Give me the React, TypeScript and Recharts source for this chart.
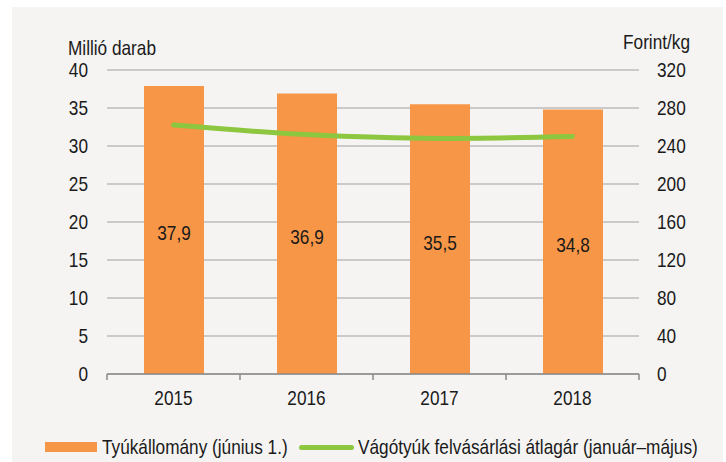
import React from 'react';
import { ComposedChart, Bar, Line, XAxis, YAxis, CartesianGrid, LabelList, Legend } from 'recharts';

const years = ['2015', '2016', '2017', '2018'];
const flock = [37.9, 36.9, 35.5, 34.8];
const price = [262, 252, 248, 250];
const leftTicks = [0, 5, 10, 15, 20, 25, 30, 35, 40];
const rightTicks = [0, 40, 80, 120, 160, 200, 240, 280, 320];
const barName = 'Tyúkállomány (június 1.)';
const lineName = 'Vágótyúk felvásárlási átlagár (január–május)';
const leftUnit = 'Millió darab';
const rightUnit = 'Forint/kg';

const data = years.map((y, i) => ({ year: y, flock: flock[i], price: price[i] }));

const FONT = "'Liberation Sans', Arial, sans-serif";
const FS = 21;
const SX = 0.82;
const TXT = '#1a1a1a';
const ORANGE = '#f79646';
const GREEN = '#8dc63f';
const AXIS = '#8a8a8a';

const fmt = (v: number) => String(v).replace('.', ',');

const NText = ({ x, y, anchor = 'middle', dy = '0.355em', children }: any) => (
  <text
    transform={`translate(${x},${y}) scale(${SX},1)`}
    x={0}
    y={0}
    dy={dy}
    textAnchor={anchor}
    fontFamily={FONT}
    fontSize={FS}
    fill={TXT}
  >
    {children}
  </text>
);

const XTick = (props: any) => {
  const { x, y, payload, width, visibleTicksCount, index } = props;
  const band = width / visibleTicksCount;
  const axisY = y - 16;
  const lines = [x - band / 2];
  if (index === visibleTicksCount - 1) lines.push(x + band / 2);
  return (
    <g>
      {lines.map((lx, i) => (
        <line key={i} x1={lx} x2={lx} y1={axisY} y2={axisY + 6} stroke={AXIS} strokeWidth={1.5} />
      ))}
      <NText x={x} y={y} dy="0.71em">{payload.value}</NText>
    </g>
  );
};

const LeftTick = (props: any) => <NText x={props.x} y={props.y} anchor="end">{props.payload.value}</NText>;
const RightTick = (props: any) => <NText x={props.x} y={props.y} anchor="start">{props.payload.value}</NText>;

const BarLabel = (props: any) => {
  const { x, y, width, height, value } = props;
  return <NText x={x + width / 2} y={y + height / 2 + 3}>{fmt(value)}</NText>;
};

const narrowSpan: React.CSSProperties = {
  position: 'absolute',
  top: 0,
  lineHeight: '30px',
  transform: `scaleX(${SX})`,
  transformOrigin: 'left center',
  whiteSpace: 'nowrap',
};

const LegendContent = () => (
  <div style={{ position: 'relative', height: 30, width: 726, fontFamily: FONT, fontSize: FS, color: TXT }}>
    <span style={{ position: 'absolute', left: 45, top: 10, width: 52, height: 10, background: ORANGE }} />
    <span style={{ ...narrowSpan, left: 102 }}>{barName}</span>
    <span style={{ position: 'absolute', left: 299, top: 13, width: 55, height: 5, borderRadius: 3, background: GREEN }} />
    <span style={{ ...narrowSpan, left: 358 }}>{lineName}</span>
  </div>
);

export default function App() {
  return (
    <div style={{ position: 'fixed', left: 0, top: 0, width: 726, height: 462, background: '#ffffff' }}>
      <div style={{ position: 'absolute', left: 12, top: 7, width: 711, height: 455, background: '#f5f4f2' }} />
      <div style={{ position: 'absolute', left: 0, top: 0 }}>
        <ComposedChart width={726} height={462} data={data} margin={{ top: 70, right: 0, bottom: 18, left: 0 }} barSize={60}>
          <CartesianGrid horizontal vertical={false} stroke="#bcbcbc" strokeWidth={1.3} yAxisId="left" />
          <XAxis
            dataKey="year"
            height={40}
            axisLine={{ stroke: AXIS, strokeWidth: 1.5 }}
            tickLine={false}
            tickSize={0}
            tickMargin={16}
            tick={<XTick />}
            interval={0}
          />
          <YAxis
            yAxisId="left"
            domain={[0, 40]}
            ticks={leftTicks}
            width={107}
            axisLine={false}
            tickLine={false}
            tickSize={0}
            tickMargin={19}
            tick={<LeftTick />}
            interval={0}
            label={{
              content: (p: any) => (
                <NText x={p.viewBox.x + 68} y={p.viewBox.y - 22} anchor="start">{leftUnit}</NText>
              ),
            }}
          />
          <YAxis
            yAxisId="right"
            orientation="right"
            domain={[0, 320]}
            ticks={rightTicks}
            width={87}
            axisLine={false}
            tickLine={false}
            tickSize={0}
            tickMargin={18}
            tick={<RightTick />}
            interval={0}
            label={{
              content: (p: any) => (
                <NText x={p.viewBox.x + 51} y={p.viewBox.y - 28} anchor="end">{rightUnit}</NText>
              ),
            }}
          />
          <Bar yAxisId="left" dataKey="flock" name={barName} fill={ORANGE} isAnimationActive={false}>
            <LabelList dataKey="flock" content={<BarLabel />} />
          </Bar>
          <Line
            yAxisId="right"
            type="monotone"
            dataKey="price"
            name={lineName}
            stroke={GREEN}
            strokeWidth={5}
            strokeLinecap="round"
            dot={false}
            activeDot={false}
            isAnimationActive={false}
          />
          <Legend verticalAlign="bottom" content={<LegendContent />} wrapperStyle={{ left: 0, bottom: 0, width: 726, height: 30 }} />
        </ComposedChart>
      </div>
    </div>
  );
}
